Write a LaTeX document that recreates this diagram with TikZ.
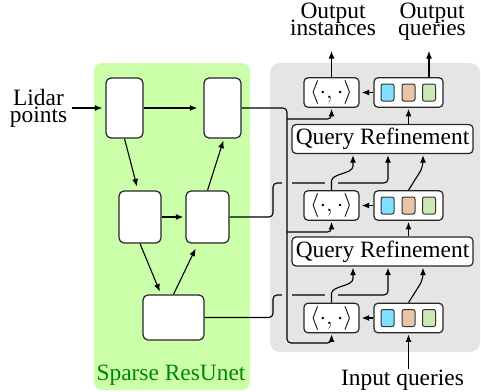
\documentclass[tikz,border=0pt]{standalone}
\usepackage{fontspec}
\setmainfont{Liberation Serif}
\usetikzlibrary{arrows.meta,calc}
\definecolor{resgreen}{RGB}{204,255,170}
\definecolor{restext}{RGB}{0,135,0}
\definecolor{panel}{RGB}{229,229,229}
\definecolor{qcyan}{RGB}{128,224,255}
\definecolor{qtan}{RGB}{232,196,168}
\definecolor{qgreen}{RGB}{204,232,180}
\pgfdeclarelayer{bg}
\pgfdeclarelayer{lines}
\pgfsetlayers{bg,lines,main}
\begin{document}
\lineskiplimit=-10pt\relax
\begin{tikzpicture}[x=0.5pt,y=-0.5pt,
  txt/.style={font=\fontsize{11.7}{8.5}\selectfont, inner sep=0pt, align=center},
  blk/.style={draw=black!85, line width=0.6pt, fill=white, rounded corners=2.5pt, inner sep=0pt},
  box/.style={draw=black!85, line width=0.6pt, fill=white, rounded corners=2pt, inner sep=0pt,
              minimum height=14.75pt, font=\fontsize{11.7}{14}\selectfont},
  sq/.style={draw=black!80, line width=0.5pt, rounded corners=1pt, minimum width=6.5pt,
             minimum height=8.5pt, inner sep=0pt},
  arr/.style={line width=0.55pt, -{Latex[length=3.8pt,width=3pt]}, shorten >=0.5pt},
  halo/.style={draw=panel, line width=5pt},
]
\useasboundingbox (0,0) rectangle (481,391);

\begin{pgfonlayer}{bg}
  \fill[resgreen, rounded corners=4pt] (94,63) rectangle (250,390);
  \fill[panel, rounded corners=5pt] (270,63) rectangle (480,352);
\end{pgfonlayer}

% Sparse ResUnet blocks
\node[blk, minimum width=18.5pt, minimum height=30pt] (A) at (124.5,108) {};
\node[blk, minimum width=18.5pt, minimum height=30pt] (B) at (222.5,108) {};
\node[blk, minimum width=21pt, minimum height=26pt] (C) at (140,217) {};
\node[blk, minimum width=21.5pt, minimum height=26pt] (D) at (207.5,217) {};
\node[blk, minimum width=30.5pt, minimum height=22.5pt] (E) at (173.5,317.5) {};

\node[txt] (lidar) at (38.5,108) {Lidar\\points};
\node[txt, anchor=base, text=restext] (sru) at (171,380) {Sparse ResUnet};

% decoder side
\foreach \i/\y in {1/92.5,2/205.5,3/318}{
  \node[box, minimum width=27.5pt] (IP\i) at (331.5,\y) {$\langle\cdot,\cdot\rangle$};
  \node[box, minimum width=34.5pt] (Q\i) at (408.5,\y) {};
  \node[sq, fill=qcyan] (Qc\i) at ($(Q\i)+(-21,0)$) {};
  \node[sq, fill=qtan] (Qt\i) at (Q\i) {};
  \node[sq, fill=qgreen] (Qg\i) at ($(Q\i)+(20.5,0)$) {};
}
\node[box, minimum width=90.5pt, minimum height=14.5pt] (QR1) at (382.5,139) {Query Refinement};
\node[box, minimum width=90.5pt, minimum height=14.5pt] (QR2) at (382.5,251.5) {Query Refinement};

\node[txt] (oi) at (333,19) {Output\\instances};
\node[txt] (oq) at (432,21.5) {Output\\queries};
\node[txt, anchor=base] (iq) at (402.5,385) {Input queries};

\coordinate (oiTip) at (331.5,50);
\coordinate (oqTip) at (429,50);
\coordinate (busend) at (287,343);
\coordinate (j1) at (287,119);
\coordinate (j2) at (287,232);
\coordinate (fD) at (273,183);
\coordinate (fE) at (273,295);

\begin{pgfonlayer}{lines}
  % UNet connections
  \draw[arr, shorten <=2pt, shorten >=1.5pt] (lidar.east |- A.west) -- (A.west);
  \draw[arr, shorten >=3pt] (A.east) -- (B.west);
  \draw[arr, shorten >=2pt] (A.south) -- ([xshift=-1pt]C.north);
  \draw[arr, shorten >=1pt] (C.east) -- (D.west);
  \draw[arr, shorten >=1pt] (D.north) -- ([xshift=0.75pt]B.south);
  \draw[arr, shorten >=1.5pt] (C.south) -- ([xshift=-6.25pt]E.north);
  \draw[arr, shorten >=2.7pt] (E.north) -- ([xshift=-4.75pt]D.south);

  % multi-scale features into query refinement
  \draw[arr, rounded corners=2pt] (D.east) -| (fD) -| ([xshift=2.75pt]QR1.south);
  \draw[arr, rounded corners=2pt] (E.east) -| (fE) -| ([xshift=2.75pt]QR2.south);

  % crossing gaps
  \draw[halo] (287,176) -- (287,190);
  \draw[halo] (287,288) -- (287,302);
  \draw[halo, line width=6.5pt] (331.5,177) -- (331.5,189);
  \draw[halo, line width=6.5pt] (331.5,289) -- (331.5,301);

  % full-resolution feature bus
  \draw[arr, rounded corners=2pt] (B.east) -| (busend) -| (IP3.south);
  \draw[arr, rounded corners=2pt] (j1) -| (IP1.south);
  \draw[arr, rounded corners=2pt] (j2) -| (IP2.south);

  % inner products into refinement
  \draw[arr] (IP2.north) -- ++(0,-9) .. controls +(0,-8) and +(0,8) .. ($(QR1.south)+(-29.5,12)$) -- ($(QR1.south)+(-29.5,0)$);
  \draw[arr] (IP3.north) -- ++(0,-9) .. controls +(0,-8) and +(0,8) .. ($(QR2.south)+(-29.5,12)$) -- ($(QR2.south)+(-29.5,0)$);

  % queries into refinement
  \draw[arr, rounded corners=3pt] (Q2.north) -- ($(QR1.south)+(40.5,13)$) -- ($(QR1.south)+(40.5,0)$);
  \draw[arr, rounded corners=3pt] (Q3.north) -- ($(QR2.south)+(40.5,13)$) -- ($(QR2.south)+(40.5,0)$);

  % queries to inner products
  \foreach \i in {1,2,3}{
    \draw[arr, shorten >=1pt] (Q\i.west) -- (IP\i.east);
  }
  % refinement to next queries
  \draw[arr] (QR1.north -| Q1.south) -- (Q1.south);
  \draw[arr] (QR2.north -| Q2.south) -- (Q2.south);

  % outputs and input
  \draw[arr] (IP1.north) -- (oiTip);
  \draw[arr] (Qg1.north |- Q1.north) -- (oqTip);
  \draw[arr] (Q3.south |- iq.north) -- (Q3.south);
\end{pgfonlayer}
\end{tikzpicture}
\end{document}
